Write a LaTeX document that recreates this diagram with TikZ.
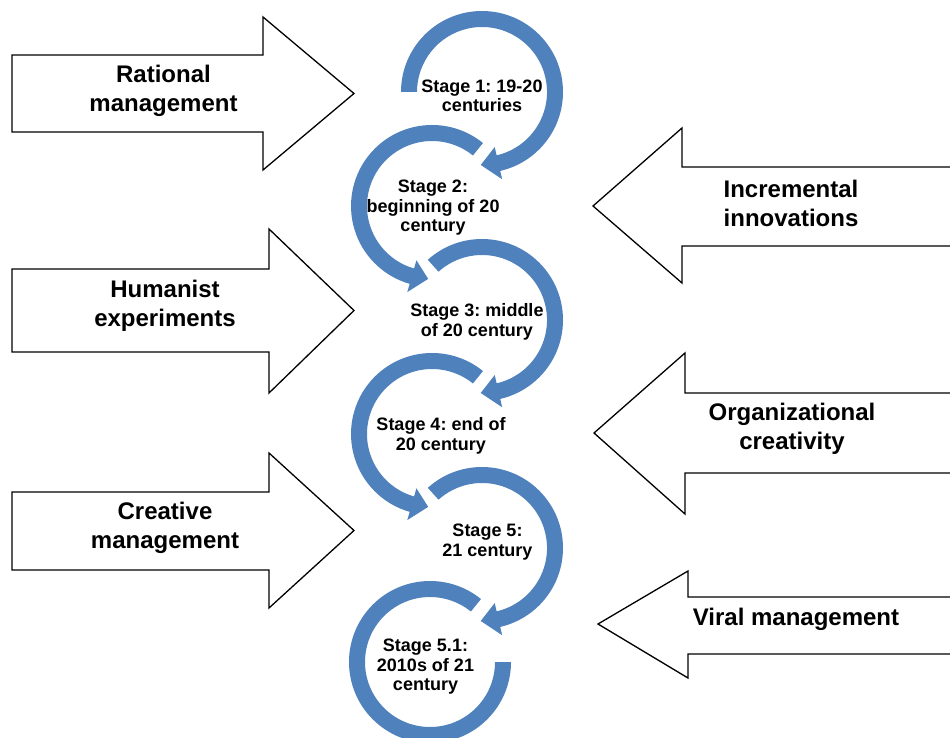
\documentclass[tikz,border=0pt]{standalone}
\usepackage{fontspec}
\setmainfont{Liberation Sans}
\usetikzlibrary{calc}
\definecolor{arcblue}{HTML}{4F81BD}
\frenchspacing
\newcommand\ringarrow[4]{%
  \fill[band] ($(#1)+(#2:81)$) arc[start angle=#2, end angle=#3, radius=81]
    -- ($(#1)+(#3:89.5)$) -- ($(#1)+(#4:73)$) -- ($(#1)+(#3:56.5)$)
    -- ($(#1)+(#3:65)$) arc[start angle=#3, end angle=#2, radius=65] -- cycle;}
\begin{document}
\begin{tikzpicture}[x=1pt,y=1pt,
  bigarrow/.style={draw=black, line width=1.3pt, fill=white, line join=miter},
  lbl/.style={font=\fontsize{24}{29}\selectfont\bfseries, align=center, inner sep=0pt},
  stagelbl/.style={font=\fontsize{18}{19.5}\selectfont\bfseries, align=center, inner sep=0pt},
  band/.style={fill=arcblue}]
\clip (0,0) rectangle (950,737);
\fill[white] (0,0) rectangle (950,737);

% left arrows
\draw[bigarrow] (12,682) -- (263,682) -- (263,720) -- (354,643.5) -- (263,567) -- (263,605) -- (12,605) -- cycle;
\draw[bigarrow] (12,468) -- (269,468) -- (269,508) -- (354,426.5) -- (269,344) -- (269,385) -- (12,385) -- cycle;
\draw[bigarrow] (12,245) -- (269,245) -- (269,284) -- (354,206.5) -- (269,129) -- (269,167) -- (12,167) -- cycle;

% right arrows
\draw[bigarrow] (960,570) -- (682,570) -- (682,609) -- (593,531) -- (682,454) -- (682,491) -- (960,491);
\draw[bigarrow] (960,344) -- (685,344) -- (685,384) -- (594,304) -- (685,223) -- (685,264) -- (960,264);
\draw[bigarrow] (960,140) -- (688,140) -- (688,166) -- (598,113) -- (688,59) -- (688,83) -- (960,83);

% circle centres
\coordinate (c1) at (482,645);
\coordinate (c2) at (432,531);
\coordinate (c3) at (482,417);
\coordinate (c4) at (432,303);
\coordinate (c5) at (482,189);
\coordinate (c6) at (430,75);

\ringarrow{c1}{180}{-77}{-91}
\ringarrow{c2}{51}{254}{267}
\ringarrow{c3}{132}{-77}{-91}
\ringarrow{c4}{51}{254}{267}
\ringarrow{c5}{132}{-77}{-91}
\fill[band] ($(c6)+(51:81)$) arc[start angle=51, end angle=360, radius=81]
  -- ($(c6)+(0:65)$) arc[start angle=360, end angle=51, radius=65] -- cycle;

% labels of the big arrows
\node[lbl] (rat) at (163.5,646.5) {Rational\\management};
\node[lbl] (hum) at (165,431) {Humanist\\experiments};
\node[lbl] (cre) at (165,209.5) {Creative\\management};
\node[lbl] (inc) at (791,534) {Incremental\\innovations};
\node[lbl] (org) at (792,308) {Organizational\\creativity};
\node[lbl] (vir) at (796,118) {Viral management};

% stage labels
\node[stagelbl] (s1) at (482,641) {Stage 1: 19-20\\centuries};
\node[stagelbl] (s2) at (433,529) {Stage 2:\\beginning of 20\\century};
\node[stagelbl] (s3) at (477,415) {Stage 3: middle\\of 20 century};
\node[stagelbl] (s4) at (441,301) {Stage 4: end of\\20 century};
\node[stagelbl] (s5) at (487.5,195) {Stage 5:\\21 century};
\node[stagelbl] (s6) at (425.5,70) {Stage 5.1:\\2010s of 21\\century};
\end{tikzpicture}
\end{document}
